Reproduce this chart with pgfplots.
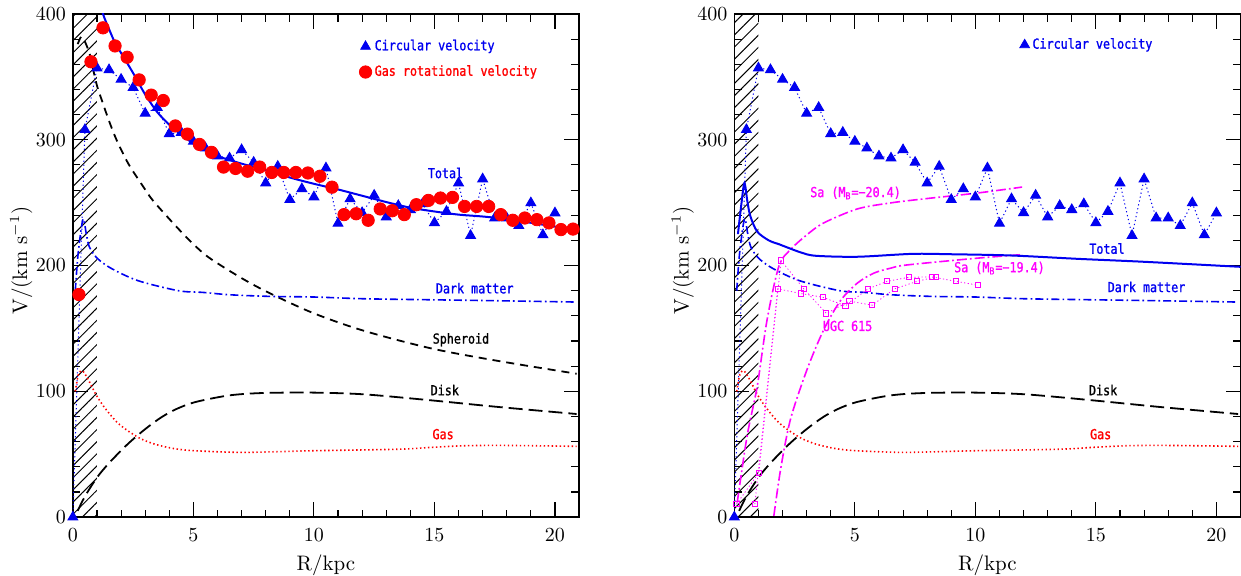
\documentclass[border=0pt]{standalone}
\usepackage{fontspec}
\usepackage{pgfplots}
\usepackage{pgfplotstable}
\pgfplotsset{compat=1.18}
\usetikzlibrary{patterns.meta}
\newfontfamily\lab[FakeStretch=0.85,FakeBold=1.2]{DejaVu Sans Mono}
\newcommand\labf{\lab\fontsize{6.9}{8}\selectfont}
\definecolor{mag}{RGB}{255,0,255}
\definecolor{bl}{RGB}{0,0,240}

% circular velocity (triangles), shared by both panels
\pgfplotstableread{
R V
0 0
0.5 308
1.0 357
1.5 355.6
2.0 348
2.5 341.5
3.0 321
3.5 325.6
4.0 304.8
4.5 305.8
5.0 298.7
5.5 293.4
6.0 287
6.5 285.4
7.0 292
7.5 282
8.0 265.6
8.5 278.8
9.0 252.4
9.5 261
10.0 254.5
10.5 277.5
11.0 233.5
11.5 253
12.0 242
12.5 255.8
13.0 238.6
13.5 247.6
14.0 244.4
14.5 249
15.0 234
15.5 243
16.0 265.6
16.5 223.8
17.0 268.8
17.5 237.8
18.0 237.8
18.5 231.7
19.0 249.8
19.5 224.4
20.0 241.8
}\circvel

% gas rotational velocity (red circles)
\pgfplotstableread{
R V
0.25 177
0.75 362
1.25 389
1.75 374.6
2.25 365.6
2.75 347.6
3.25 335.5
3.75 331.2
4.25 311
4.75 304.5
5.25 296.3
5.75 290
6.25 278.3
6.75 277.2
7.25 275
7.75 278.3
8.25 274
8.75 274
9.25 274
9.75 273.6
10.25 271
10.75 262.3
11.25 240.5
11.75 241.2
12.25 236
12.75 245
13.25 243.6
13.75 240.5
14.25 248.4
14.75 251.8
15.25 253.7
15.75 254.2
16.25 247
16.75 247
17.25 247
17.75 240.5
18.25 236
18.75 237.8
19.25 236.5
19.75 233.9
20.25 228.6
20.75 229
}\gasrot

\pgfplotstableread{
R V
1.0 418
1.25 400
1.5 388
1.75 377
2.0 369
2.5 353
3.0 336
3.5 322
4.0 312
4.5 304
5.0 297
5.5 291.5
6.0 287
7.0 281
8.0 276
9.0 270
10.0 265
11.0 260.5
12.0 255.5
13.0 250.5
14.0 246
15.0 243
16.0 240.5
17.0 239
18.0 237
19.0 234
20.0 231
21.0 228
}\totleft

\pgfplotstableread{
R V
0.2 376
0.35 382
0.5 378
0.7 368
0.84 356
1.0 343
1.19 332
1.5 315
1.81 300
2.3 281
2.91 263
3.33 251.5
4.29 231
5.0 217
5.67 206
7.0 190
8.17 178
10 162
12.1 148
14.9 134
17.7 124
20.9 114
}\spheroid

\pgfplotstableread{
R V
0.1 180
0.22 210
0.42 237
0.55 226
0.68 215
1.0 206
1.57 198
2.7 188
4.38 180
5.37 178.7
6.5 176.8
8.17 175.5
10 175
12.1 173.6
14.9 172.8
17.7 172
20.9 171
}\darkm

\pgfplotstableread{
R V
0.2 5
0.5 16.5
1.0 31.5
1.5 43
2.27 58
3.0 70
3.68 79.5
4.3 86
5.08 91.5
6.49 96.8
7.9 98.7
10 99
12.1 97.6
14.9 92.8
17.7 87.5
20.9 82
}\disk

\pgfplotstableread{
R V
0.1 100
0.24 114
0.42 116
0.73 106
0.94 98
1.3 87.5
1.8 76
2.27 68.8
2.8 62.5
3.4 58
4.2 54.5
5.08 52.8
7.05 51.5
10 52.8
13.5 54
14.9 55.5
16.3 56.8
18 57
20.9 56.3
}\gas

\pgfplotstableread{
R V
0.15 225
0.3 250
0.42 265.6
0.55 250
0.67 239
0.95 227
1.43 220
1.85 217
2.05 215.5
2.75 210.5
3.37 207.8
5.1 207
7.38 209.3
9 209
11.5 208
14.3 205.3
17 203
21 199
}\totright

\pgfplotstableread{
R V
0.12 11.6
0.53 64.5
0.95 104
1.36 157
1.85 199.5
2.33 212.7
3.02 224.6
3.71 233.9
5.1 245
6.48 249.8
7.86 253
10.1 257.7
11.94 262.4
}\saA

\pgfplotstableread{
R V
1.64 1
1.92 38
2.33 77.8
3.02 117.5
3.71 149
4.4 172
5.1 186
5.79 194
6.5 198
7.17 200.5
10.15 206
11.94 208.7
}\saB

\pgfplotstableread{
R V
0.09 10.3
1.02 35.4
1.94 204
2.88 181.5
3.82 161.9
4.78 171.7
5.72 168.5
6.65 181.5
7.59 187.5
8.37 191
}\ugcA

\pgfplotstableread{
R V
0.85 10.3
1.8 181.5
2.75 177.8
3.67 174.8
4.61 168
5.55 181.5
6.34 187.5
7.25 190.7
8.2 191
9.18 187.5
10.1 184.4
}\ugcB

\pgfplotsset{
  rcpanel/.style={
    scale only axis, width=253.5pt, height=252pt,
    xmin=0, xmax=21, ymin=0, ymax=400,
    xtick={0,5,...,20}, ytick={0,100,...,400},
    minor x tick num=4, minor y tick num=4,
    tick align=inside, tick pos=both,
    major tick length=7.5pt, minor tick length=3.8pt,
    axis line style={line width=0.7pt},
    every tick/.style={black, line width=0.55pt},
    xlabel={R/kpc}, ylabel={V/(km s$^{-1}$)},
    ylabel style={at={(axis description cs:-0.102,0.51)}, anchor=center},
    label style={font=\fontsize{10.5}{12}\selectfont},
    tick label style={font=\fontsize{10.3}{12}\selectfont},
    xticklabel style={yshift=-2pt},
    legend style={draw=none, fill=none, font=\labf, row sep=3pt,
      nodes={inner sep=1.5pt}},
    legend cell align=left,
    legend image code/.code={\draw[#1] plot coordinates {(0.12cm,0cm)};},
  },
  hatch/.style={draw=none, pattern={Lines[angle=45,distance=4.3pt,line width=0.5pt]}, pattern color=black, forget plot},
  trim/.style={bl, line width=0.5pt, dash pattern=on 0.6pt off 1.4pt, mark=triangle*, mark size=2.8pt,
    mark options={solid, fill=bl, draw=bl}, forget plot},
  dmst/.style={bl, smooth, line width=0.8pt, dash pattern=on 4pt off 1.6pt on 0.8pt off 1.6pt, forget plot},
  diskst/.style={black, smooth, line width=0.9pt, dash pattern=on 7pt off 3pt, forget plot},
  gasst/.style={red, smooth, line width=0.8pt, dash pattern=on 0.7pt off 1.3pt, forget plot},
  sast/.style={mag, smooth, line width=0.8pt, dash pattern=on 5pt off 1.5pt on 0.9pt off 1.5pt, forget plot},
  ugcst/.style={mag, line width=0.4pt, dash pattern=on 0.6pt off 1.2pt, mark=square, mark size=1.3pt,
    mark options={solid, line width=0.5pt}, forget plot},
}

\begin{document}
\begin{tikzpicture}
% ---------------- left panel ----------------
\begin{axis}[rcpanel,
  legend style={at={(axis cs:11.62,364)}, anchor=west}]
  \addplot[hatch] coordinates {(0,400) (1,400)} \closedcycle;
  \addplot[black, smooth, line width=0.9pt, dash pattern=on 4pt off 3pt, forget plot] table {\spheroid};
  \addplot[dmst] table {\darkm};
  \addplot[diskst] table {\disk};
  \addplot[gasst] table {\gas};
  \addplot[bl, smooth, line width=1pt, forget plot] table {\totleft};
  \addplot[trim] table {\circvel};
  \addplot[only marks, mark=*, mark size=3.1pt, red, forget plot] table {\gasrot};
  \addlegendimage{only marks, mark=triangle*, mark size=2.8pt, bl}
  \addlegendentry{\textcolor{bl}{Circular velocity}}
  \addlegendimage{only marks, mark=*, mark size=3.1pt, red}
  \addlegendentry{\textcolor{red}{Gas rotational velocity}}
  \node[bl, font=\labf] at (axis cs:15.46,273.6) {Total};
  \node[bl, font=\labf] at (axis cs:16.67,182) {Dark matter};
  \node[black, font=\labf] at (axis cs:16.1,141) {Spheroid};
  \node[black, font=\labf] at (axis cs:15.43,101) {Disk};
  \node[red, font=\labf] at (axis cs:15.36,66) {Gas};
\end{axis}
% ---------------- right panel ----------------
\begin{axis}[rcpanel, at={(331.25pt,0pt)}, anchor=south west,
  legend style={at={(axis cs:11.58,375.4)}, anchor=west}]
  \addplot[hatch] coordinates {(0,400) (1,400)} \closedcycle;
  \addplot[dmst] table {\darkm};
  \addplot[diskst] table {\disk};
  \addplot[gasst] table {\gas};
  \addplot[sast] table {\saA};
  \addplot[sast] table {\saB};
  \addplot[ugcst] table {\ugcA};
  \addplot[ugcst] table {\ugcB};
  \addplot[bl, smooth, line width=1pt, forget plot] table {\totright};
  \addplot[trim] table {\circvel};
  \addlegendimage{only marks, mark=triangle*, mark size=2.8pt, bl}
  \addlegendentry{\textcolor{bl}{Circular velocity}}
  \node[bl, font=\labf] at (axis cs:15.46,213.5) {Total};
  \node[bl, font=\labf] at (axis cs:17.1,183) {Dark matter};
  \node[black, font=\labf] at (axis cs:15.3,101) {Disk};
  \node[red, font=\labf] at (axis cs:15.2,66) {Gas};
  \node[mag, font=\labf] at (axis cs:5.03,257.7) {Sa (M\textsubscript{B}=−20.4)};
  \node[mag, font=\labf] at (axis cs:11.0,198) {Sa (M\textsubscript{B}=−19.4)};
  \node[mag, font=\labf] at (axis cs:4.7,152) {UGC 615};
\end{axis}
\pgfresetboundingbox
\path (-36.5pt,-29pt) rectangle (585pt,259pt);
\end{tikzpicture}
\end{document}
